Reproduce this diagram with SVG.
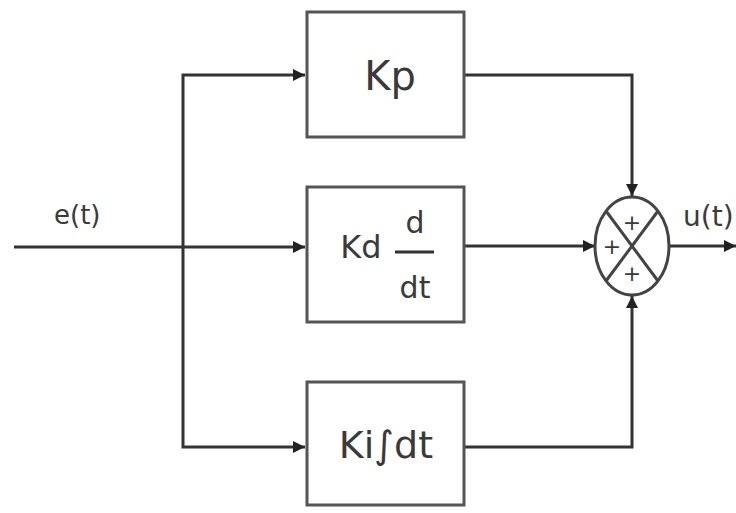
<svg xmlns="http://www.w3.org/2000/svg" width="736" height="513" viewBox="0 0 736 513">
<style>
.box{fill:#fff;stroke:#555;stroke-width:3}
.ln{fill:none;stroke:#333;stroke-width:3}
.t{font-family:"DejaVu Sans","Liberation Sans",sans-serif;fill:#3a3a3a}
</style>
<defs>
<marker id="ar" viewBox="0 0 10 10" refX="10" refY="5" markerWidth="4" markerHeight="4" orient="auto" markerUnits="strokeWidth">
<path d="M0,0 L10,5 L0,10 Z" fill="#222"/>
</marker>
</defs>
<rect width="736" height="513" fill="#fff"/>
<g id="connectors">
<line class="ln" x1="14" y1="247" x2="305" y2="247" marker-end="url(#ar)"/>
<polyline class="ln" points="183,247 183,75 305,75" marker-end="url(#ar)"/>
<polyline class="ln" points="183,247 183,447 305,447" marker-end="url(#ar)"/>
<polyline class="ln" points="464,75 632,75 632,196" marker-end="url(#ar)"/>
<line class="ln" x1="464" y1="246" x2="595" y2="246" marker-end="url(#ar)"/>
<polyline class="ln" points="464,447 632,447 632,296" marker-end="url(#ar)"/>
<line class="ln" x1="670" y1="246" x2="736" y2="246" marker-end="url(#ar)"/>
</g>
<g id="input-label"><text class="t" x="54" y="224" font-size="26">e(t)</text></g>
<g id="output-label"><text class="t" x="683" y="226" font-size="28">u(t)</text></g>
<g id="kp">
<rect class="box" x="307" y="12" width="157" height="125"/>
<text class="t" x="390" y="90" font-size="40" text-anchor="middle">Kp</text>
</g>
<g id="kd">
<rect class="box" x="307" y="187" width="157" height="135"/>
<text class="t" x="361" y="258" font-size="32" text-anchor="middle">Kd</text>
<text class="t" x="415" y="233" font-size="30" text-anchor="middle">d</text>
<line x1="395" y1="252" x2="434" y2="252" stroke="#333" stroke-width="3"/>
<text class="t" x="415" y="298" font-size="30" text-anchor="middle">dt</text>
</g>
<g id="ki">
<rect class="box" x="307" y="382" width="157" height="123"/>
<text class="t" x="386" y="458" font-size="38" text-anchor="middle">Ki∫dt</text>
</g>
<g id="sum">
<ellipse cx="632" cy="246" rx="37" ry="49" fill="#fff" stroke="#444" stroke-width="3"/>
<line x1="606" y1="211" x2="658" y2="281" stroke="#444" stroke-width="3"/>
<line x1="658" y1="211" x2="606" y2="281" stroke="#444" stroke-width="3"/>
<text class="t" x="632" y="230" font-size="22" text-anchor="middle">+</text>
<text class="t" x="612" y="254" font-size="22" text-anchor="middle">+</text>
<text class="t" x="632" y="281" font-size="22" text-anchor="middle">+</text>
</g>
</svg>
